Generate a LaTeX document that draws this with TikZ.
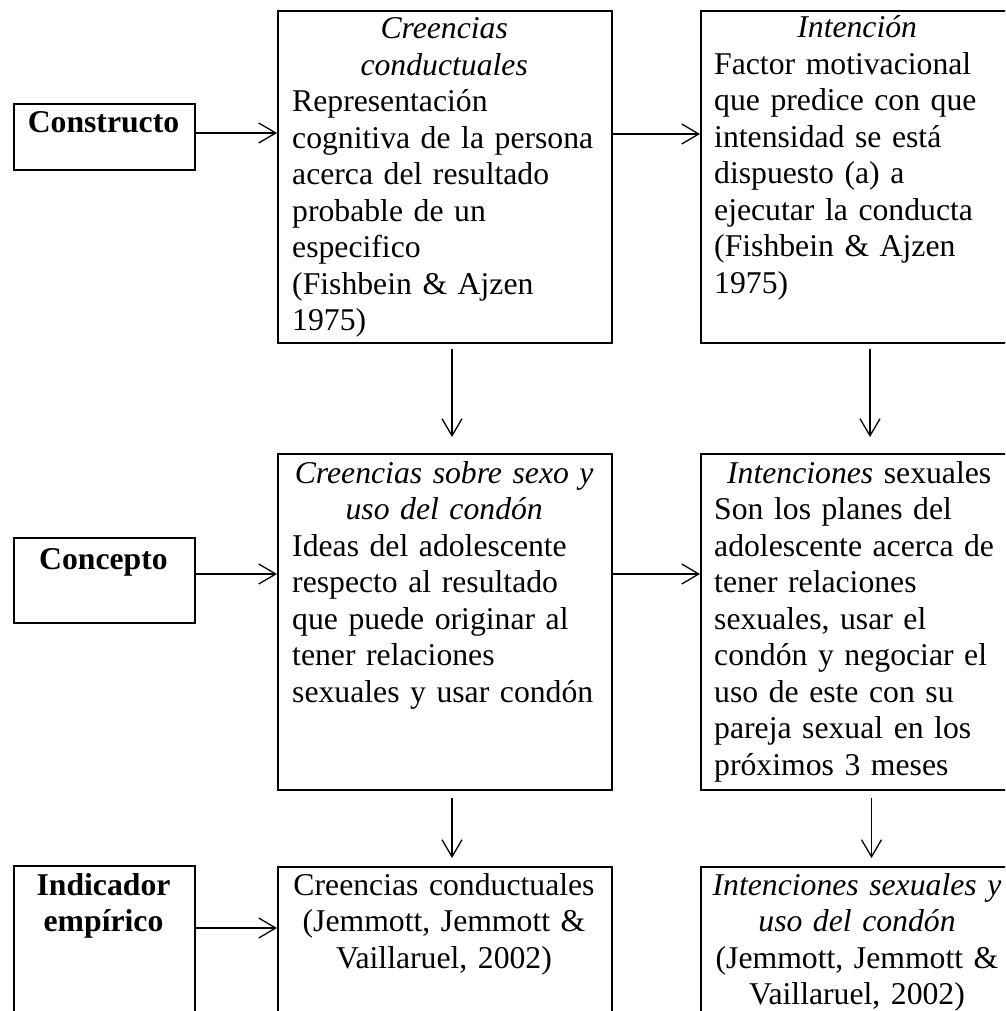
\documentclass[tikz,border=0pt]{standalone}
\usepackage{fontspec}
\setmainfont{Liberation Serif}
\usetikzlibrary{arrows.meta}
\begin{document}
\begin{tikzpicture}[x=1pt,y=-1pt,
  box/.style={draw, line width=2pt, inner sep=0pt, anchor=north west},
  txt/.style={inner sep=0pt, font=\fontsize{31.7}{36.5}\selectfont},
  lbl/.style={inner sep=0pt, align=center, text width=181pt, font=\fontsize{31.7}{36.5}\selectfont\bfseries},
  arr/.style={line width=1.3pt, -{Straight Barb[length=17pt,width=20pt]}}]
\clip (0,0) rectangle (1005,1011);
% left boxes
\node[box, minimum width=181pt, minimum height=66pt]  (L1) at (13,103) {};
\node[box, minimum width=181pt, minimum height=85pt]  (L2) at (13,537) {};
\node[box, minimum width=181pt, minimum height=170pt] (L3) at (13,865) {};
\node[lbl, anchor=base] (L1t) at (103.5,133) {Constructo};
\node[lbl, anchor=base] (L2t) at (103.5,569) {Concepto};
\node[lbl, anchor=base] (L3t) at (103.5,895) {Indicador\\empírico};
% column boxes
\node[box, minimum width=334pt, minimum height=332pt] (A) at (277,10) {};
\node[box, minimum width=315pt, minimum height=332pt] (B) at (700,10) {};
\node[box, minimum width=334pt, minimum height=336pt] (C) at (277,453) {};
\node[box, minimum width=315pt, minimum height=336pt] (D) at (700,453) {};
\node[box, minimum width=334pt, minimum height=170pt] (E) at (277,866) {};
\node[box, minimum width=315pt, minimum height=170pt] (F) at (700,866) {};
% texts
\node[txt, anchor=base west, text width=304pt] (At) at (292,39)
  {\centering\itshape Creencias\\conductuales\par
   \raggedright\upshape Representación\\cognitiva de la persona\\acerca del resultado\\probable de un\\especifico\\(Fishbein \& Ajzen\\1975)\par};
\node[txt, anchor=base west, text width=286pt] (Bt) at (714,38)
  {\centering\itshape Intención\par
   \raggedright\upshape Factor motivacional\\que predice con que\\intensidad se está\\dispuesto (a) a\\ejecutar la conducta\\(Fishbein \& Ajzen\\1975)\par};
\node[txt, anchor=base west, text width=304pt] (Ct) at (292,483)
  {\centering\itshape Creencias sobre sexo y\\uso del condón\par
   \raggedright\upshape Ideas del adolescente\\respecto al resultado\\que puede originar al\\tener relaciones\\sexuales y usar condón\par};
\node[txt, anchor=base west, text width=290pt] (Dt) at (714,483)
  {\centering\textit{Intenciones} sexuales\par
   \raggedright Son los planes del\\adolescente acerca de\\tener relaciones\\sexuales, usar el\\condón y negociar el\\uso de este con su\\pareja sexual en los\\próximos 3 meses\par};
\node[txt, anchor=base, text width=310pt] (Et) at (444,895)
  {\centering Creencias conductuales\\(Jemmott, Jemmott \&\\Vaillaruel, 2002)\par};
\node[txt, anchor=base, text width=300pt] (Ft) at (857,895)
  {\centering\textit{Intenciones sexuales y}\\\textit{uso del condón}\\(Jemmott, Jemmott \&\\Vaillaruel, 2002)\par};
% horizontal arrows
\draw[arr] ([yshift=4pt]L1.east) -- ([yshift=4pt]L1.east -| A.west);
\draw[arr] ([yshift=3pt]L1.east -| A.east) -- ([yshift=3pt]L1.east -| B.west);
\draw[arr] ([yshift=6.5pt]L2.east) -- ([yshift=6.5pt]L2.east -| C.west);
\draw[arr] ([yshift=6.5pt]L2.east -| C.east) -- ([yshift=6.5pt]L2.east -| D.west);
\draw[arr] ([yshift=23pt]L3.east) -- ([yshift=23pt]L3.east -| E.west);
% vertical arrows
\draw[arr, shorten <=5pt, shorten >=16pt] ([xshift=7pt]A.south) -- ([xshift=7pt]A.south |- C.north);
\draw[arr, shorten <=5pt, shorten >=16pt] ([xshift=11.5pt]B.south) -- ([xshift=11.5pt]B.south |- D.north);
\draw[arr, shorten <=7pt, shorten >=8pt] ([xshift=7pt]C.south) -- ([xshift=7pt]C.south |- E.north);
\draw[arr, shorten <=7pt, shorten >=8pt] ([xshift=13pt]D.south) -- ([xshift=13pt]D.south |- F.north);
\end{tikzpicture}
\end{document}
